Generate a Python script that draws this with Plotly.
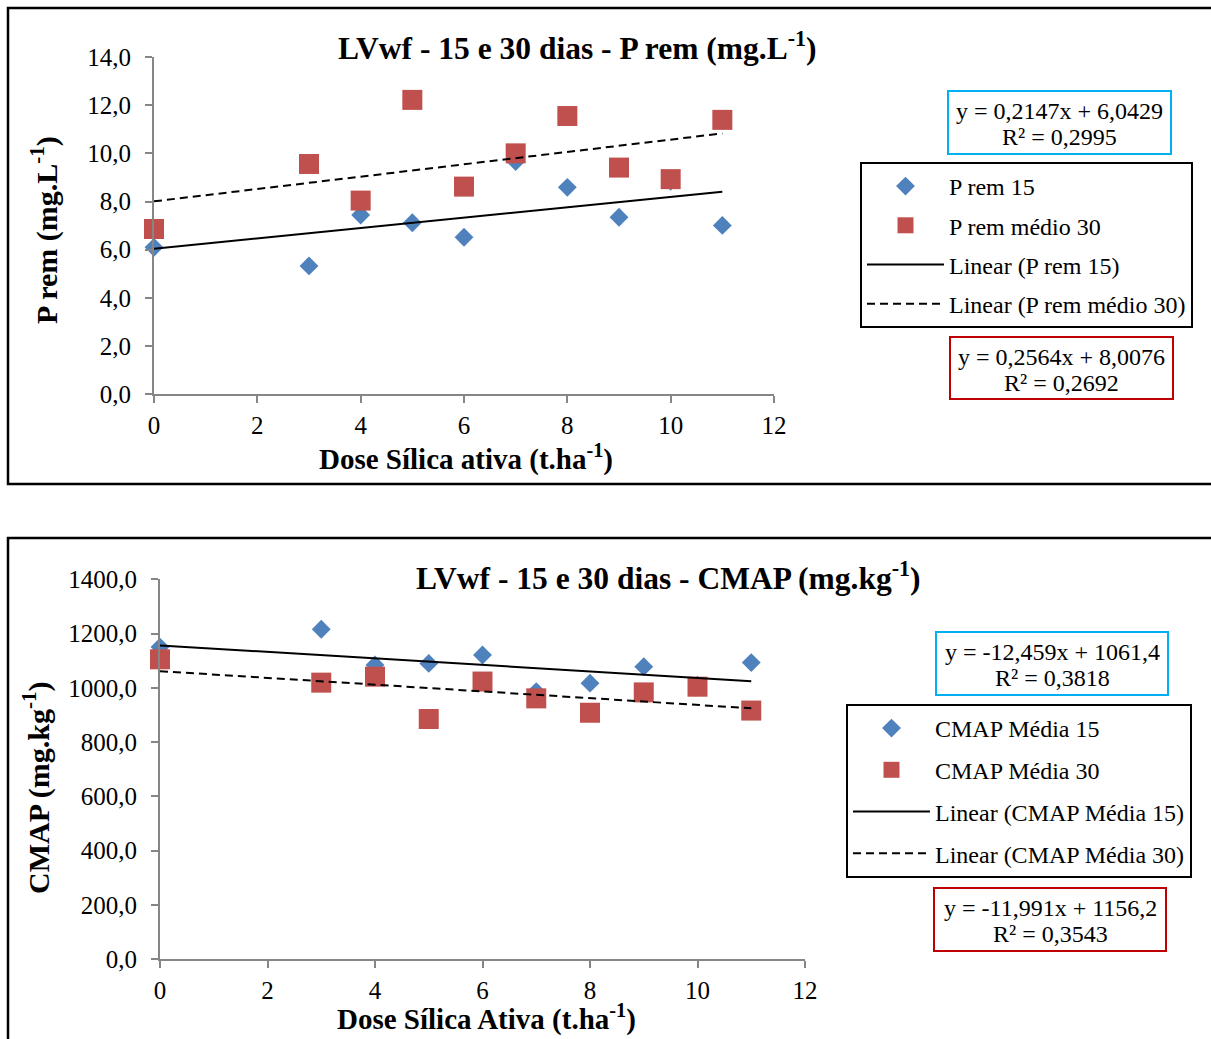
import plotly.graph_objects as go

W, H = 1211, 1039
FONT = "Liberation Serif"

# Doses of active silica (t/ha)
dose = [0, 3, 4, 5, 6, 7, 8, 9, 10, 11]

# P rem (mg/L) at 15 and 30 days
prem_15 = [6.10, 5.33, 7.44, 7.12, 6.52, 9.66, 8.59, 7.35, 8.84, 7.01]
prem_30 = [6.86, 9.56, 8.04, 12.22, 8.62, 10.00, 11.55, 9.41, 8.93, 11.39]

# CMAP (mg/kg) at 15 and 30 days
cmap_15 = [1150, 1216, 1084, 1090, 1121, 986, 1017, 1078, 1010, 1093]
cmap_30 = [1105, 1019, 1041, 885, 1023, 961, 908, 983, 1004, 916]

# Linear fits: slope, intercept, R²
prem_fit_15 = (0.2147, 6.0429, 0.2995)
prem_fit_30 = (0.2564, 8.0076, 0.2692)
cmap_fit_15 = (-11.991, 1156.2, 0.3543)
cmap_fit_30 = (-12.459, 1061.4, 0.3818)

x_ticks = [0, 2, 4, 6, 8, 10, 12]
x_ticktext = ["0", "2", "4", "6", "8", "10", "12"]
prem_ticks = [0, 2, 4, 6, 8, 10, 12, 14]
prem_ticktext = ["0,0", "2,0", "4,0", "6,0", "8,0", "10,0", "12,0", "14,0"]
cmap_ticks = [0, 200, 400, 600, 800, 1000, 1200, 1400]
cmap_ticktext = ["0,0", "200,0", "400,0", "600,0", "800,0", "1000,0", "1200,0", "1400,0"]

BLUE = "#4F81BD"
RED = "#C0504D"
AXIS_GREY = "#868686"


def px(x):
    return x / W


def py(y):
    return 1 - y / H


def num(v):
    return f"{v}".replace(".", ",")


def equation(fit):
    slope, intercept, _ = fit
    return f"y = {num(slope)}x + {num(intercept)}"


def r2_text(fit):
    return f"R² = {num(fit[2])}"


def fit_line(fit, xs):
    slope, intercept, _ = fit
    x_line = [min(xs), max(xs)]
    return x_line, [intercept + slope * v for v in x_line]


fig = go.Figure()


def add_series(xref, yref, legend, names, y15, y30, fit15, fit30):
    fig.add_trace(go.Scatter(
        x=dose, y=y15, mode="markers", name=names[0],
        marker=dict(symbol="diamond", size=14.5, color=BLUE, line=dict(width=0)),
        xaxis=xref, yaxis=yref, legend=legend, legendgroup=names[0], cliponaxis=False))
    fig.add_trace(go.Scatter(
        x=dose, y=y30, mode="markers", name=names[1],
        marker=dict(symbol="square", size=20, color=RED, line=dict(width=0)),
        xaxis=xref, yaxis=yref, legend=legend, legendgroup=names[1], cliponaxis=False))
    lx, ly = fit_line(fit15, dose)
    fig.add_trace(go.Scatter(
        x=lx, y=ly, mode="lines", name=f"Linear ({names[0]})",
        line=dict(color="black", width=2),
        xaxis=xref, yaxis=yref, legend=legend, legendgroup=f"L{names[0]}", cliponaxis=False))
    lx, ly = fit_line(fit30, dose)
    fig.add_trace(go.Scatter(
        x=lx, y=ly, mode="lines", name=f"Linear ({names[1]})",
        line=dict(color="black", width=2, dash="8px,5px"),
        xaxis=xref, yaxis=yref, legend=legend, legendgroup=f"L{names[1]}", cliponaxis=False))


add_series("x", "y", "legend", ["P rem 15", "P rem médio 30"],
           prem_15, prem_30, prem_fit_15, prem_fit_30)
add_series("x2", "y2", "legend2", ["CMAP Média 15", "CMAP Média 30"],
           cmap_15, cmap_30, cmap_fit_15, cmap_fit_30)

axis_style = dict(
    showline=True, linecolor=AXIS_GREY, linewidth=2,
    ticks="outside", ticklen=7, tickwidth=2, tickcolor=AXIS_GREY,
    showgrid=False, zeroline=False, fixedrange=True, automargin=False,
    tickfont=dict(family=FONT, size=25, color="black"),
)
x_axis_style = dict(axis_style, ticklabelstandoff=1)
y_axis_style = dict(axis_style, ticklabelstandoff=9)

legend_style = dict(
    xanchor="left", yanchor="top", bordercolor="black", borderwidth=2,
    bgcolor="white", font=dict(family=FONT, size=24, color="black"),
    itemwidth=77,
)

shapes = [
    # chart frames
    dict(type="rect", xref="paper", yref="paper", x0=px(8), x1=px(1230),
         y0=py(484), y1=py(8), line=dict(color="black", width=2.5)),
    dict(type="rect", xref="paper", yref="paper", x0=px(8), x1=px(1230),
         y0=py(1060), y1=py(538), line=dict(color="black", width=2.5)),
]

annotations = []


def text(x, y, s, size=24, bold=False, angle=0):
    annotations.append(dict(
        xref="paper", yref="paper", x=px(x), y=py(y), text=f"<b>{s}</b>" if bold else s,
        showarrow=False, xanchor="center", yanchor="middle", textangle=angle,
        font=dict(family=FONT, size=size, color="black")))


def eq_box(x0, y0, x1, y1, color, fit):
    shapes.append(dict(type="rect", xref="paper", yref="paper",
                       x0=px(x0), x1=px(x1), y0=py(y1), y1=py(y0),
                       line=dict(color=color, width=2), fillcolor="white", layer="below"))
    cx = (x0 + x1) / 2
    text(cx, y0 + 20, equation(fit))
    text(cx, y0 + 46, r2_text(fit))


# top chart texts
text(577, 46, "LVwf - 15 e 30 dias - P rem (mg.L<sup>-1</sup>)", size=31.5, bold=True)
text(45, 230, "P rem (mg.L<sup>-1</sup>)", size=30, bold=True, angle=-90)
text(466, 457, "Dose Sílica ativa (t.ha<sup>-1</sup>)", size=29, bold=True)
eq_box(948, 91, 1171, 154, "#00B0F0", prem_fit_15)
eq_box(950, 337, 1173, 399, "#C00000", prem_fit_30)

# bottom chart texts
text(668, 576, "LVwf - 15 e 30 dias - CMAP (mg.kg<sup>-1</sup>)", size=31.5, bold=True)
text(36, 788, "CMAP (mg.kg<sup>-1</sup>)", size=30, bold=True, angle=-90)
text(486, 1017, "Dose Sílica Ativa (t.ha<sup>-1</sup>)", size=29, bold=True)
eq_box(936, 632, 1168, 695, "#00B0F0", cmap_fit_30)
eq_box(934, 888, 1166, 951, "#C00000", cmap_fit_15)

fig.update_layout(
    width=W, height=H,
    margin=dict(l=0, r=0, t=0, b=0, autoexpand=False),
    paper_bgcolor="white", plot_bgcolor="white",
    showlegend=True,
    xaxis=dict(x_axis_style, domain=[px(154), px(774)], range=[0, 12], anchor="y",
               tickvals=x_ticks, ticktext=x_ticktext),
    yaxis=dict(y_axis_style, domain=[py(394.3), py(57)], range=[0, 14], anchor="x",
               tickvals=prem_ticks, ticktext=prem_ticktext),
    xaxis2=dict(x_axis_style, domain=[px(160), px(805)], range=[0, 12], anchor="y2",
                tickvals=x_ticks, ticktext=x_ticktext),
    yaxis2=dict(y_axis_style, domain=[py(959), py(579.3)], range=[0, 1400], anchor="x2",
                tickvals=cmap_ticks, ticktext=cmap_ticktext),
    legend=dict(legend_style, x=px(860), y=py(162), tracegroupgap=5),
    legend2=dict(legend_style, x=px(846), y=py(704), tracegroupgap=7.5),
    shapes=shapes,
    annotations=annotations,
)

fig.write_html("out.html")
